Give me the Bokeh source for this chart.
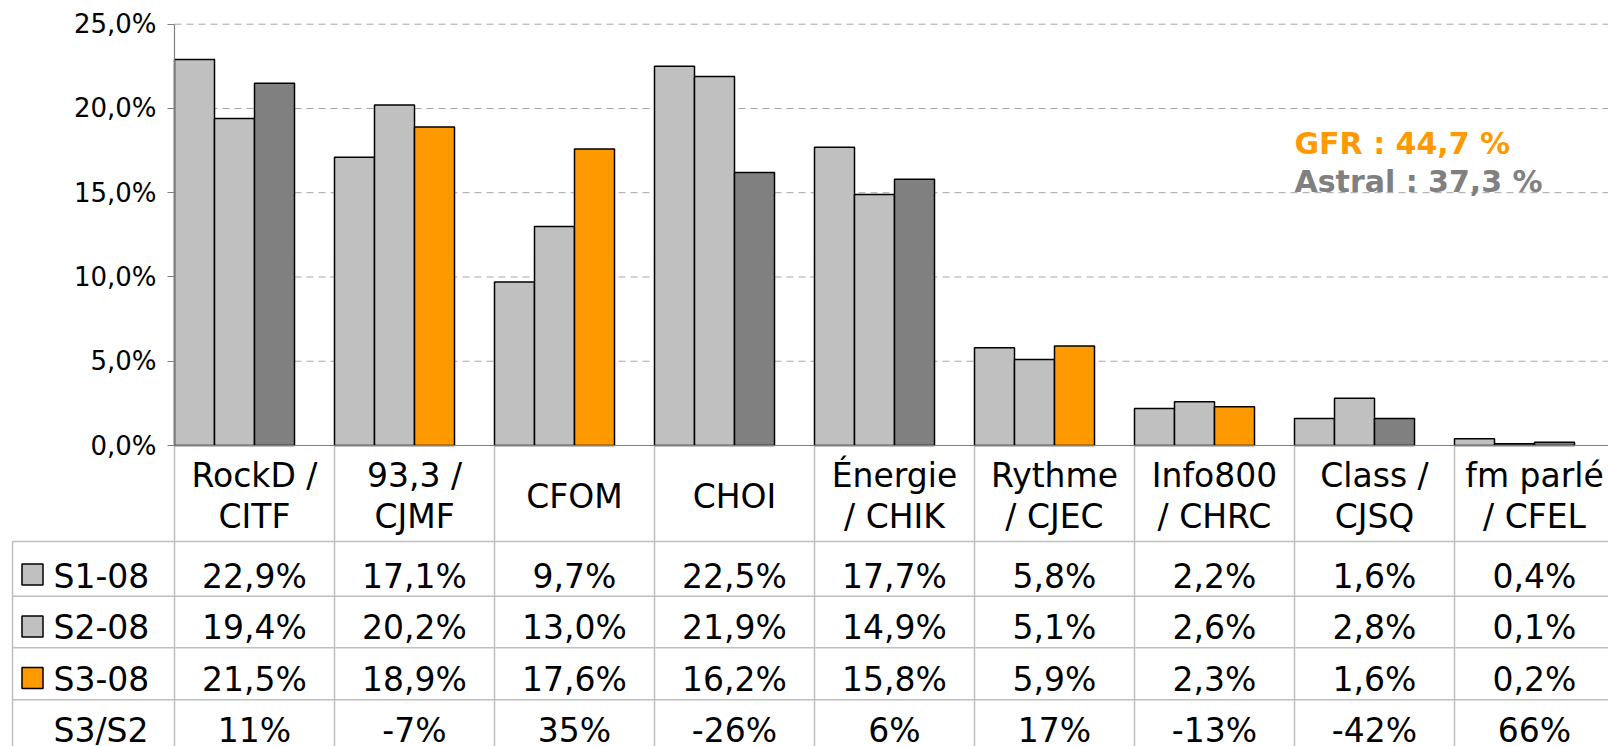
from bokeh.plotting import figure
from bokeh.models import Range1d, LinearAxis, FixedTicker
from bokeh.core.properties import value
from bokeh.embed import file_html
from bokeh.resources import INLINE

# ---------------- data ----------------
categories = ["RockD /\nCITF", "93,3 /\nCJMF", "CFOM", "CHOI", "Énergie\n/ CHIK",
              "Rythme\n/ CJEC", "Info800\n/ CHRC", "Class /\nCJSQ", "fm parlé\n/ CFEL"]
series_names = ["S1-08", "S2-08", "S3-08"]
s1 = [22.9, 17.1, 9.7, 22.5, 17.7, 5.8, 2.2, 1.6, 0.4]
s2 = [19.4, 20.2, 13.0, 21.9, 14.9, 5.1, 2.6, 2.8, 0.1]
s3 = [21.5, 18.9, 17.6, 16.2, 15.8, 5.9, 2.3, 1.6, 0.2]
s3_group = ["Astral", "GFR", "GFR", "Astral", "Astral", "GFR", "GFR", "Astral", "Astral"]
ratio_label = "S3/S2"
ratio = ["11%", "-7%", "35%", "-26%", "6%", "17%", "-13%", "-42%", "66%"]
y_ticks = [0, 5, 10, 15, 20, 25]
y_tick_labels = ["0,0%", "5,0%", "10,0%", "15,0%", "20,0%", "25,0%"]
notes = ["GFR : 44,7 %", "Astral : 37,3 %"]

# ---------------- styles / layout ----------------
LIGHT = "#C0C0C0"
ORANGE = "#FF9900"
DARK = "#808080"
group_color = {"GFR": ORANGE, "Astral": DARK}
FONT_NAME = "DejaVu Sans"
FONT = value(FONT_NAME)

W, H = 1608, 746
PX0, CW = 174.0, 160.0          # canvas x of category 0 start, px per category
PY0, PPU = 445.0, (445.0 - 23.7) / 25.0   # canvas y of 0 %, px per percent


def X(px):
    return (px - PX0) / CW


def Y(py):
    return (PY0 - py) / PPU


def YB(py, fs):
    # baseline position, corrected for the renderer's alphabetic-baseline offset
    return Y(py - 0.3 * fs)


n = len(categories)
x_right = X(W)
y_bottom = Y(H)

p = figure(width=W, height=H, output_backend="svg", toolbar_location=None,
           x_range=Range1d(X(0), x_right), y_range=Range1d(y_bottom, Y(0)),
           x_axis_location=None, y_axis_location=None, min_border=0,
           outline_line_color=None, background_fill_color="white",
           border_fill_color="white")
p.xgrid.grid_line_color = None
p.ygrid.grid_line_color = None

# dashed horizontal gridlines (from the y axis to the right)
grid_vals = [t for t in y_ticks if t > 0]
p.segment(x0=[0] * len(grid_vals), y0=grid_vals, x1=[x_right] * len(grid_vals), y1=grid_vals,
          line_color="#A6A6A6", line_dash="7 5", line_width=1)

# ---------------- data table grid ----------------
TABLE = "#BFBFBF"
row_lines = [541.0, 595.7, 647.3, 699.3]
p.segment(x0=[X(12)] * len(row_lines), y0=[Y(v) for v in row_lines],
          x1=[x_right] * len(row_lines), y1=[Y(v) for v in row_lines],
          line_color=TABLE, line_width=1.5)
p.segment(x0=list(range(n)), y0=[0] * n, x1=list(range(n)), y1=[y_bottom] * n,
          line_color=TABLE, line_width=1.5)
p.segment(x0=[X(12)], y0=[Y(541)], x1=[X(12)], y1=[y_bottom], line_color=TABLE, line_width=1.5)

# ---------------- bars ----------------
bw = 0.25
s3_colors = [group_color[g] for g in s3_group]
for k, (vals, cols) in enumerate([(s1, [LIGHT] * n), (s2, [LIGHT] * n), (s3, s3_colors)]):
    xs = [i + (k + 0.5) * bw for i in range(n)]
    p.vbar(x=xs, top=vals, bottom=0, width=bw, fill_color=cols,
           line_color="black", line_width=1.5)

# ---------------- axes ----------------
yax = LinearAxis(fixed_location=0, bounds=(0, 25), ticker=FixedTicker(ticks=y_ticks),
                 major_label_overrides=dict(zip(y_ticks, y_tick_labels)),
                 axis_line_color=DARK, axis_line_width=1.2,
                 major_tick_line_color=DARK, major_tick_line_width=1.2,
                 major_tick_in=0, major_tick_out=7, minor_tick_line_color=None,
                 major_label_standoff=11, major_label_text_font=FONT_NAME,
                 major_label_text_font_size="26px", major_label_text_color="black")
p.add_layout(yax, "left")
xax = LinearAxis(fixed_location=0, bounds=(0, x_right), ticker=FixedTicker(ticks=[]),
                 axis_line_color=DARK, axis_line_width=1.2,
                 major_tick_line_color=None, minor_tick_line_color=None,
                 major_label_text_font_size="0px")
p.add_layout(xax, "below")

# ---------------- table texts ----------------
FS = 33
TXT = dict(text_font=FONT, text_font_size=f"{FS}px", text_color="black",
           text_baseline="alphabetic")
centers = [i + 0.5 for i in range(n)]

# category header (one or two lines)
cx, cy, ct = [], [], []
for i, c in enumerate(categories):
    lines = c.split("\n")
    bases = [485, 526] if len(lines) == 2 else [506]
    for ln, b in zip(lines, bases):
        cx.append(centers[i])
        cy.append(YB(b, FS))
        ct.append(ln)
p.text(x=cx, y=cy, text=ct, text_align="center", **TXT)


def fmt(v):
    return ("%.1f%%" % v).replace(".", ",")


row_base = [586.0, 637.0, 688.5, 740.0]
rows = [[fmt(v) for v in s1], [fmt(v) for v in s2], [fmt(v) for v in s3], ratio]
for r, texts in enumerate(rows):
    p.text(x=centers, y=[YB(row_base[r], FS)] * n, text=texts, text_align="center", **TXT)

# row headers + legend swatches
p.text(x=[X(53)] * 4, y=[YB(b, FS) for b in row_base], text=series_names + [ratio_label],
       text_align="left", **TXT)
p.scatter(x=[X(32)] * 3, y=[Y(574), Y(626), Y(677.5)], marker="square", size=21,
          fill_color=[LIGHT, LIGHT, ORANGE], line_color="black", line_width=1.5)

# ---------------- notes ----------------
NFS = 30
p.text(x=[X(1294)], y=[YB(151.7, NFS)], text=[notes[0]], text_font=FONT,
       text_font_size=f"{NFS}px", text_font_style="bold", text_color=ORANGE,
       text_baseline="alphabetic")
p.text(x=[X(1294)], y=[YB(190, NFS)], text=[notes[1]], text_font=FONT,
       text_font_size=f"{NFS}px", text_font_style="bold", text_color=DARK,
       text_baseline="alphabetic")

open("out.html", "w").write(file_html(p, INLINE))
